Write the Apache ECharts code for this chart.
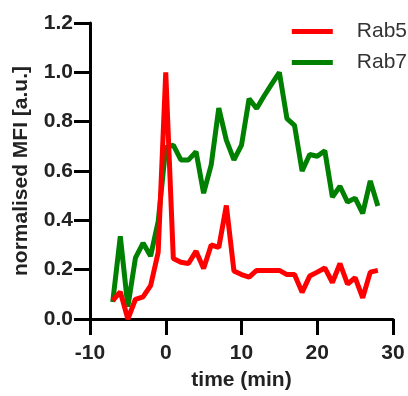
<!DOCTYPE html>
<html>
<head>
<meta charset="utf-8">
<script src="https://cdn.jsdelivr.net/npm/echarts@6/dist/echarts.min.js"></script>
<style>
  html, body { margin: 0; padding: 0; background: #fff; }
  #main { width: 408px; height: 396px; }
</style>
</head>
<body>
<div id="main"></div>
<script>
// time points (min)
var times = [-7, -6, -5, -4, -3, -2, -1, 0, 1, 2, 3, 4, 5, 6, 7, 8, 9, 10, 11, 12,
             13, 14, 15, 16, 17, 18, 19, 20, 21, 22, 23, 24, 25, 26, 27, 28];
var rab5 = [0.075, 0.11, 0.0, 0.08, 0.09, 0.135, 0.27, 1.0, 0.245, 0.23, 0.225, 0.275, 0.205, 0.30, 0.29, 0.46,
            0.195, 0.18, 0.17, 0.197, 0.197, 0.197, 0.197, 0.18, 0.18, 0.108, 0.174, 0.19,
            0.207, 0.148, 0.225, 0.141, 0.168, 0.086, 0.19, 0.197];
var rab7 = [0.069, 0.335, 0.05, 0.248, 0.308, 0.255, 0.395, 0.695, 0.705, 0.645, 0.645, 0.678, 0.51, 0.625,
            0.855, 0.725, 0.645, 0.705, 0.893, 0.853, 0.905, 0.953, 1.0, 0.812, 0.785, 0.6,
            0.667, 0.66, 0.682, 0.494, 0.538, 0.474, 0.49, 0.428, 0.56, 0.458];
var xTicks = [-10, 0, 10, 20, 30];
var yTicks = [0, 0.2, 0.4, 0.6, 0.8, 1.0, 1.2];

function pairs(vals) {
  return times.map(function (t, i) { return [t, vals[i]]; });
}

var myChart = echarts.init(document.getElementById('main'));

var axisFont = { fontFamily: 'Liberation Sans', fontWeight: 'bold', fontSize: 21, color: '#222' };

var option = {
  animation: false,
  grid: { left: 90, right: 15, top: 23, bottom: 72, containLabel: false },
  legend: {
    orient: 'vertical',
    right: -4,
    top: 16,
    itemWidth: 41,
    itemHeight: 5,
    itemGap: 10,
    textStyle: { fontFamily: 'Liberation Sans', fontSize: 21, color: '#333', padding: [0, 0, 0, 19] },
    data: [
      { name: 'Rab5', icon: 'rect', itemStyle: { color: '#ff0000' } },
      { name: 'Rab7', icon: 'rect', itemStyle: { color: '#008000' } }
    ]
  },
  xAxis: {
    type: 'value',
    min: xTicks[0],
    max: xTicks[xTicks.length - 1],
    interval: 10,
    name: 'time (min)',
    nameLocation: 'middle',
    nameGap: 51,
    nameTextStyle: axisFont,
    splitLine: { show: false },
    axisLine: { show: true, onZero: false, lineStyle: { color: '#000', width: 3 } },
    axisTick: { show: true, length: 16, lineStyle: { color: '#000', width: 3 } },
    axisLabel: Object.assign({ margin: 24 }, axisFont)
  },
  yAxis: {
    type: 'value',
    min: yTicks[0],
    max: yTicks[yTicks.length - 1],
    interval: 0.2,
    name: 'normalised MFI [a.u.]',
    nameLocation: 'middle',
    nameGap: 58,
    nameTextStyle: axisFont,
    splitLine: { show: false },
    axisLine: { show: true, onZero: false, lineStyle: { color: '#000', width: 3 } },
    axisTick: { show: true, length: 16, lineStyle: { color: '#000', width: 3 } },
    axisLabel: Object.assign({ margin: 17, formatter: function (v) { return v.toFixed(1); } }, axisFont)
  },
  series: [
    {
      name: 'Rab7',
      type: 'line',
      data: pairs(rab7),
      symbol: 'none',
      lineStyle: { color: '#008000', width: 5 },
      itemStyle: { color: '#008000' }
    },
    {
      name: 'Rab5',
      type: 'line',
      data: pairs(rab5),
      symbol: 'none',
      lineStyle: { color: '#ff0000', width: 5 },
      itemStyle: { color: '#ff0000' }
    }
  ]
};

myChart.setOption(option);
</script>
</body>
</html>
